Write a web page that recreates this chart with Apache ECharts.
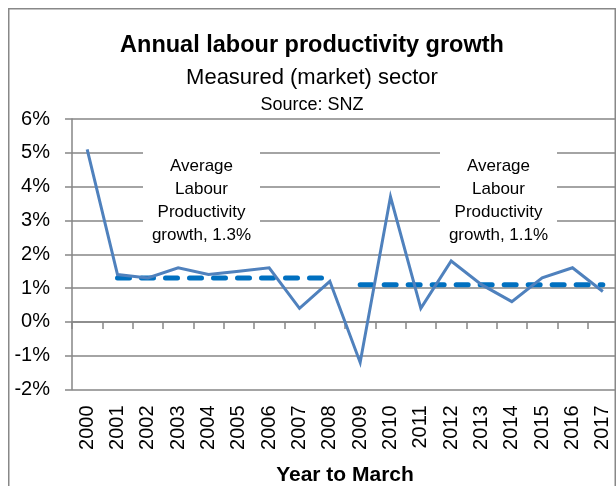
<!DOCTYPE html>
<html>
<head>
<meta charset="utf-8">
<script src="https://cdn.jsdelivr.net/npm/echarts@6/dist/echarts.min.js"></script>
<style>
  html, body { margin: 0; padding: 0; background: #fff; }
  #chart { width: 616px; height: 486px; }
</style>
</head>
<body>
<div id="chart"></div>
<script>
// Year to March
const years = ['2000','2001','2002','2003','2004','2005','2006','2007','2008',
               '2009','2010','2011','2012','2013','2014','2015','2016','2017'];
// Annual labour productivity growth, measured (market) sector, %
const growth = [5.1, 1.4, 1.3, 1.6, 1.4, 1.5, 1.6, 0.4, 1.2,
                -1.2, 3.7, 0.4, 1.8, 1.1, 0.6, 1.3, 1.6, 0.9];
// Period averages
const avgPeriodA = { from: '2001', to: '2008', value: 1.3 };
const avgPeriodB = { from: '2009', to: '2017', value: 1.1 };
// Value axis ticks
const yTicks = [-2, -1, 0, 1, 2, 3, 4, 5, 6];

const FONT = '"Liberation Sans", Arial, sans-serif';

function periodLine(p) {
  const a = years.indexOf(p.from), b = years.indexOf(p.to);
  return years.map((y, i) => (i >= a && i <= b ? p.value : null));
}

const chart = echarts.init(document.getElementById('chart'), null, { renderer: 'canvas' });

function avgLabel(cx, p) {
  return {
    type: 'group',
    children: [
      { type: 'rect', shape: { x: cx - 58.5, y: 145, width: 117, height: 103 },
        style: { fill: '#fff' }, z: 10 },
      { type: 'text', x: cx, y: 200.5, z: 11,
        style: {
          text: 'Average\nLabour\nProductivity\ngrowth, ' + p.value.toFixed(1) + '%',
          fontFamily: FONT, fontSize: 17, lineHeight: 23,
          fill: '#000', align: 'center', verticalAlign: 'middle'
        } }
    ]
  };
}

chart.setOption({
  animation: false,
  backgroundColor: '#fff',
  grid: { left: 72, top: 119, width: 546, height: 270.5,
          containLabel: false, outerBoundsMode: 'none' },
  xAxis: [
    {
      type: 'category', data: years, position: 'bottom',
      axisLine: { show: false, onZero: false },
      axisTick: { show: false },
      axisLabel: { interval: 0, rotate: 90, margin: 16, fontFamily: FONT, fontSize: 20, color: '#000' },
      name: 'Year to March', nameLocation: 'middle', nameGap: 75,
      nameTextStyle: { fontFamily: FONT, fontSize: 21, fontWeight: 'bold', color: '#000' }
    },
    {
      type: 'category', data: years, position: 'bottom',
      axisLine: { show: true, onZero: true, lineStyle: { color: '#868686', width: 1.5 } },
      axisTick: { show: true, interval: 0, length: 7, inside: false,
                  lineStyle: { color: '#868686', width: 1.5 } },
      axisLabel: { show: false, interval: 0 }
    }
  ],
  yAxis: {
    type: 'value', min: yTicks[0], max: yTicks[yTicks.length - 1], interval: 1,
    axisLine: { show: true, lineStyle: { color: '#868686', width: 1.5 } },
    axisTick: { show: true, length: 7, lineStyle: { color: '#868686', width: 1.5 } },
    splitLine: { show: true, lineStyle: { color: '#868686', width: 1.5 } },
    axisLabel: { margin: 22, fontFamily: FONT, fontSize: 20, color: '#000',
                 formatter: v => v + '%' }
  },
  series: [
    {
      type: 'line', data: periodLine(avgPeriodA), xAxisIndex: 0,
      symbol: 'none', connectNulls: false, z: 2,
      lineStyle: { color: '#0070C0', width: 5, type: [12, 12], cap: 'round' }
    },
    {
      type: 'line', data: periodLine(avgPeriodB), xAxisIndex: 0,
      symbol: 'none', connectNulls: false, z: 2,
      lineStyle: { color: '#0070C0', width: 5, type: [12, 12], cap: 'round' }
    },
    {
      type: 'line', data: growth, xAxisIndex: 0,
      symbol: 'none', z: 3,
      lineStyle: { color: '#4F81BD', width: 3, join: 'miter' }
    }
  ],
  graphic: [
    { type: 'text', x: 312, y: 46, z: 20,
      style: { text: 'Annual labour productivity growth', fontFamily: FONT, fontSize: 23.5,
               fontWeight: 'bold', fill: '#000', align: 'center', verticalAlign: 'middle' } },
    { type: 'text', x: 312, y: 78, z: 20,
      style: { text: 'Measured (market) sector', fontFamily: FONT, fontSize: 22,
               fill: '#000', align: 'center', verticalAlign: 'middle' } },
    { type: 'text', x: 312, y: 105, z: 20,
      style: { text: 'Source: SNZ', fontFamily: FONT, fontSize: 18,
               fill: '#000', align: 'center', verticalAlign: 'middle' } },
    avgLabel(201.5, avgPeriodA),
    avgLabel(498.5, avgPeriodB),
    { type: 'rect', z: 30, silent: true,
      shape: { x: 8.75, y: 8.75, width: 606.5, height: 520 },
      style: { fill: 'none', stroke: '#888888', lineWidth: 1.5 } }
  ]
});
</script>
</body>
</html>
